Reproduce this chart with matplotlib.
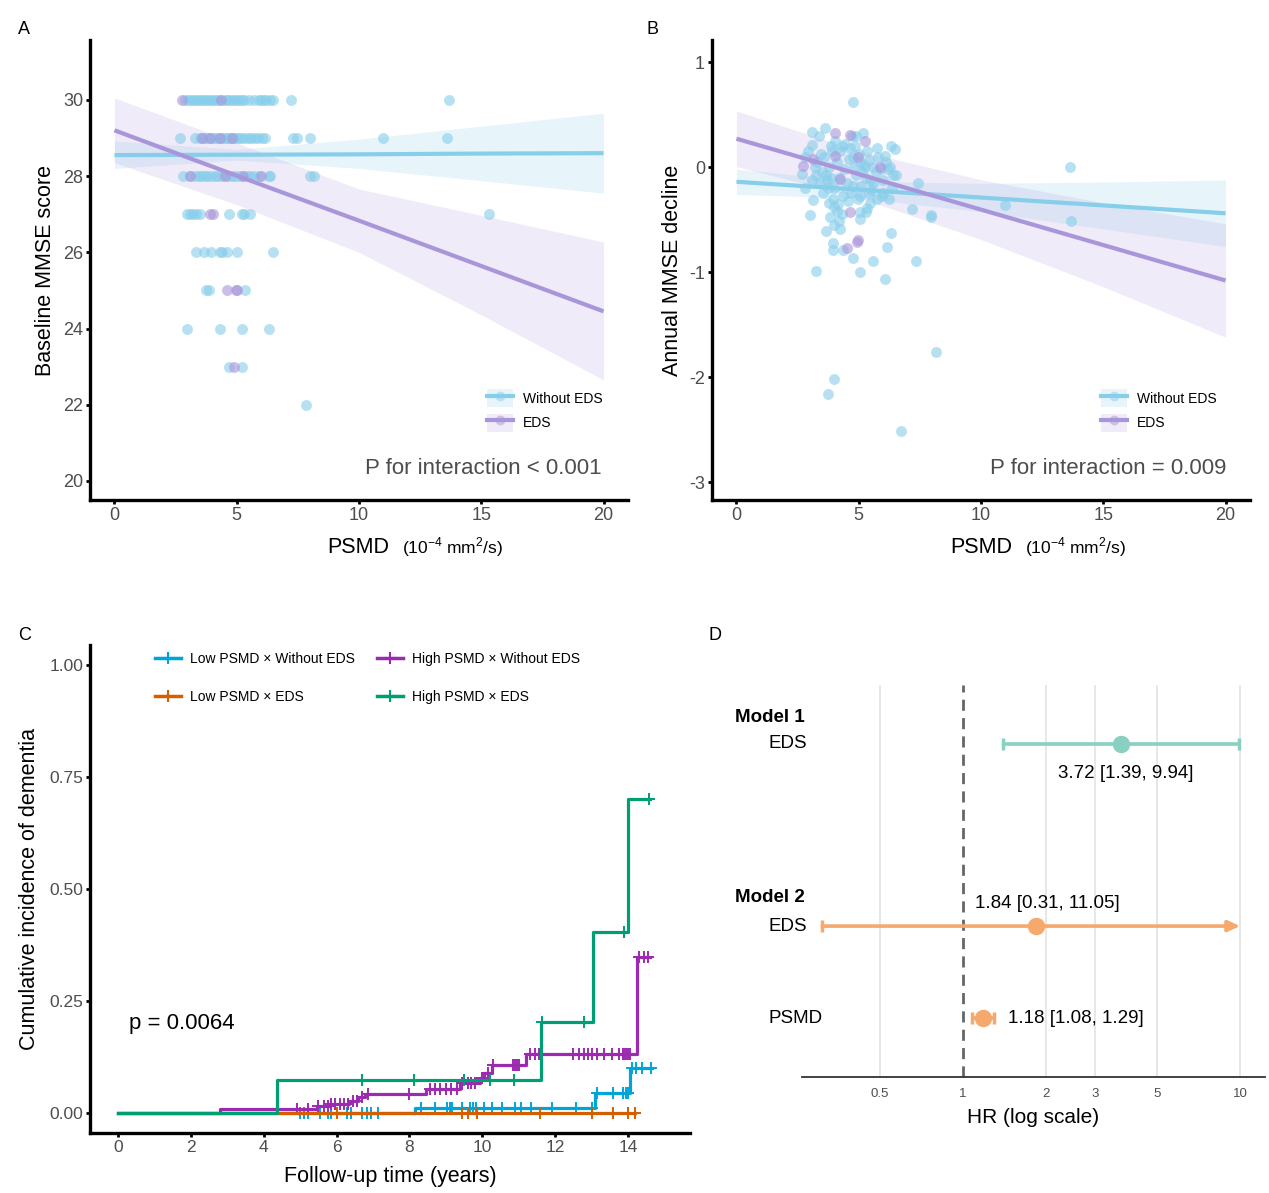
import numpy as np
import matplotlib.pyplot as plt
from matplotlib.lines import Line2D
from matplotlib.patches import Patch
from matplotlib.legend_handler import HandlerTuple
from matplotlib.ticker import NullLocator
import matplotlib.transforms as mtransforms

plt.rcParams['font.family'] = ['Liberation Sans', 'DejaVu Sans']
plt.rcParams['axes.unicode_minus'] = False

W, H = 1269, 1193

# ---------------- data ----------------
# Panel A: baseline MMSE score vs PSMD (x values per MMSE level)
a_wo = {
    30: [2.9, 3.0, 3.1, 3.2, 3.3, 3.4, 3.5, 3.6, 3.7, 3.8, 3.9, 4.0, 4.1, 4.2, 4.3, 4.5, 4.6,
         4.7, 4.8, 4.9, 5.0, 5.1, 5.2, 5.3, 5.5, 5.7, 5.9, 6.0, 6.1, 6.2, 6.35, 6.5, 7.2, 13.7],
    29: [2.7, 3.3, 3.5, 3.6, 3.7, 3.8, 3.9, 4.0, 4.1, 4.2, 4.3, 4.4, 4.5, 4.6, 4.7, 4.8, 4.9,
         5.0, 5.1, 5.2, 5.35, 5.5, 5.6, 5.75, 5.85, 6.05, 6.15, 7.3, 7.45, 8.0, 11.0, 13.6],
    28: [2.8, 3.1, 3.3, 3.45, 3.55, 3.7, 3.8, 3.95, 4.1, 4.25, 4.4, 4.6, 4.75, 4.9, 5.05,
         5.2, 5.4, 5.55, 5.7, 5.9, 6.3, 6.35, 8.0, 8.15],
    27: [2.95, 3.07, 3.2, 3.35, 3.5, 4.7, 5.2, 5.3, 5.55, 15.3],
    26: [3.35, 3.65, 3.95, 4.3, 4.4, 4.6, 5.0, 6.5],
    25: [3.75, 3.85, 5.35],
    24: [2.95, 4.3, 5.2, 6.3],
    23: [4.7, 5.2],
    22: [7.85],
}
a_eds = {
    30: [2.75, 4.35],
    29: [3.6, 3.9, 4.3, 4.8],
    28: [3.1, 4.5, 5.25, 6.0],
    27: [3.9, 4.05],
    25: [4.6, 4.95, 5.0],
    23: [4.9],
}
band_x = [0, 5, 10, 15, 20]
a_wo_fit = [28.55, 28.56, 28.57, 28.59, 28.60]
a_wo_lo = [28.20, 28.42, 28.20, 27.88, 27.55]
a_wo_hi = [28.92, 28.70, 28.97, 29.31, 29.65]
a_eds_fit = [29.20, 28.01, 26.83, 25.64, 24.45]
a_eds_lo = [28.35, 27.25, 26.00, 24.36, 22.65]
a_eds_hi = [30.05, 28.87, 27.66, 26.97, 26.27]

# Panel B: annual MMSE decline vs PSMD
b_wo_x = [4.76, 3.10, 3.64, 3.36, 5.17, 4.71, 3.10, 2.94, 2.82, 5.76, 6.32, 6.48, 6.07,
          2.66, 2.82, 2.99, 3.15, 3.66, 3.77, 3.82, 3.97, 3.94, 3.94, 4.25, 4.18, 4.35,
          4.76, 5.04, 5.04, 5.04, 5.28, 5.33, 5.48, 5.58, 5.94, 6.23, 6.30, 6.15, 6.07,
          6.53, 6.27, 7.33, 7.42, 7.17, 7.97, 7.97, 8.14, 10.99, 13.62, 13.70, 3.27, 4.00,
          3.76, 6.71, 5.04, 5.40,
          3.30, 3.50, 3.60, 3.70, 3.80, 3.90, 4.00, 4.10, 4.20, 4.30, 4.40, 4.50, 4.60,
          4.70, 4.80, 4.90, 5.00, 5.10, 5.20, 5.30, 5.40, 5.50, 5.60, 5.70, 5.80, 6.00,
          6.20, 6.40, 3.40, 3.55, 3.75, 3.95, 4.15, 4.35, 4.55, 4.75, 4.95, 5.15, 5.35,
          4.45, 4.25, 4.05, 3.85, 4.65, 4.85, 5.05, 5.25, 3.65, 3.45, 3.25, 3.10, 3.20,
          4.90, 5.60, 5.90, 6.10, 6.35, 6.00, 5.75, 4.10, 4.30, 4.00, 3.85, 4.75, 5.45]
b_wo_y = [0.62, 0.33, 0.37, 0.30, 0.32, 0.30, 0.21, 0.15, 0.10, 0.18, 0.20, 0.17, 0.11,
          -0.07, -0.20, -0.46, -0.31, -0.61, -0.34, -0.48, -0.55, -0.72, -0.79, -0.59, -0.51,
          -0.79, -0.87, -0.49, -1.00, -0.43, -0.43, -0.39, -0.34, -0.89, -0.28, -0.30, -0.63,
          -0.76, -1.07, -0.075, 0.00, -0.89, -0.15, -0.40, -0.46, -0.48, -1.76, -0.36, 0.00,
          -0.51, -0.99, -2.02, -2.16, -2.51, -0.28, -0.25,
          0.05, -0.05, 0.10, -0.12, 0.00, 0.15, -0.20, 0.05, -0.10, 0.20, -0.02, -0.15, 0.08,
          -0.25, 0.00, -0.08, 0.12, -0.18, 0.02, -0.10, 0.07, -0.22, 0.00, -0.05, 0.10, -0.12,
          -0.02, -0.08, -0.15, -0.25, -0.20, -0.30, -0.35, -0.28, -0.32, -0.18, -0.30, -0.05,
          0.15, 0.22, 0.15, 0.25, 0.20, 0.18, 0.20, 0.05, 0.00, -0.08, 0.12, -0.08, -0.12,
          0.00, 0.30, -0.15, -0.02, 0.05, -0.20, -0.25, -0.30, -0.42, -0.45, -0.38, -0.10,
          0.10, -0.12]
b_eds_x = [4.05, 4.63, 5.25, 2.71, 3.15, 4.02, 4.95, 5.89, 4.22, 4.63, 4.54, 4.95, 4.91]
b_eds_y = [0.32, 0.31, 0.25, 0.01, 0.08, 0.11, 0.10, 0.00, -0.11, -0.43, -0.77, -0.69, -0.71]
b_wo_fit = [-0.14, -0.215, -0.29, -0.365, -0.44]
b_wo_lo = [-0.26, -0.296, -0.425, -0.588, -0.757]
b_wo_hi = [-0.02, -0.134, -0.155, -0.142, -0.123]
b_eds_fit = [0.27, -0.0675, -0.405, -0.7425, -1.08]
b_eds_lo = [0.005, -0.29, -0.69, -1.14, -1.62]
b_eds_hi = [0.535, 0.155, -0.12, -0.34, -0.54]

# Panel C: cumulative incidence (step times / values, end of follow-up, censor times)
km_labels = ['Low PSMD \u00d7 Without EDS', 'High PSMD \u00d7 Without EDS',
             'Low PSMD \u00d7 EDS', 'High PSMD \u00d7 EDS']
km_colors = ['#00A5D8', '#9C2AB0', '#D55E00', '#009E73']
km_t = [
    [0, 8.15, 13.1, 14.05],
    [0, 2.79, 5.45, 5.8, 6.35, 6.6, 6.77, 8.46, 9.38, 9.94, 10.05, 10.26, 11.2, 14.25],
    [0],
    [0, 4.35, 11.6, 13.05, 14.0],
]
km_v = [
    [0, 0.011, 0.044, 0.100],
    [0, 0.008, 0.015, 0.02, 0.027, 0.035, 0.043, 0.054, 0.066, 0.077, 0.088, 0.107, 0.132, 0.347],
    [0],
    [0, 0.074, 0.204, 0.405, 0.70],
]
km_end = [14.65, 14.6, 14.2, 14.6]
km_censor = [
    [4.99, 5.1, 5.21, 5.53, 5.75, 5.85, 6.28, 6.39, 6.71, 6.82, 6.93, 7.14,
     8.32, 8.7, 9.02, 9.1, 9.18, 9.45, 9.67, 9.75, 9.83, 10.04, 10.26, 10.53, 10.9, 11.06,
     11.33, 11.92, 12.57, 13.0, 13.16, 13.59, 13.86, 13.95, 14.0, 14.12, 14.23, 14.39, 14.62],
    [4.92, 5.21, 5.5, 5.65, 5.75, 5.85, 5.95, 6.1, 6.2, 6.3, 6.45, 6.55, 6.7, 6.85, 8.0,
     8.55, 8.7, 8.85, 9.0, 9.15, 9.3, 9.45, 9.6, 9.7, 9.8, 10.0, 10.15, 10.3, 10.85, 10.9,
     10.95, 11.0, 11.3, 11.45, 11.55, 12.5, 12.65, 12.8, 12.9, 13.0, 13.15, 13.35, 13.55,
     13.75, 13.85, 13.9, 13.95, 14.0, 14.05, 14.3, 14.45, 14.55],
    [6.0, 9.45, 9.6, 9.85, 11.57, 13.0, 13.6, 14.0, 14.2],
    [6.71, 8.12, 9.49, 10.2, 10.87, 11.65, 12.8, 13.88, 14.58],
]

# Panel D: forest plot
fp_rows = ['EDS', 'EDS', 'PSMD']
fp_hr = [3.72, 1.84, 1.18]
fp_lo = [1.39, 0.31, 1.08]
fp_hi = [9.94, 11.05, 1.29]
fp_model = [1, 2, 2]

# ---------------- figure ----------------
fig = plt.figure(figsize=(W / 100, H / 100), dpi=100)


def box(l, t, r, b):
    return [l / W, 1 - b / H, (r - l) / W, (b - t) / H]


def fx(x):
    return x / W


def fy(y):
    return 1 - y / H


c_wo = '#87CEEB'
c_eds = '#A995DA'
tick_col = '#4D4D4D'


def style_classic(ax):
    for s in ['top', 'right']:
        ax.spines[s].set_visible(False)
    for s in ['left', 'bottom']:
        ax.spines[s].set_linewidth(2.4)
        ax.spines[s].set_color('black')
    ax.tick_params(direction='out', length=3, width=2, color='black',
                   labelcolor=tick_col, labelsize=13, pad=2)


def scatter_panel(ax, wo_x, wo_y, eds_x, eds_y, wo_fit, wo_lo, wo_hi, eds_fit, eds_lo, eds_hi):
    ax.fill_between(band_x, wo_lo, wo_hi, color=c_wo, alpha=0.2, lw=0, zorder=1)
    ax.fill_between(band_x, eds_lo, eds_hi, color=c_eds, alpha=0.18, lw=0, zorder=1)
    ax.scatter(wo_x, wo_y, s=62, color=c_wo, alpha=0.6, lw=0, zorder=2)
    ax.scatter(eds_x, eds_y, s=62, color=c_eds, alpha=0.6, lw=0, zorder=2)
    ax.plot(band_x, wo_fit, color=c_wo, lw=3, zorder=3, solid_capstyle='butt')
    ax.plot(band_x, eds_fit, color=c_eds, lw=3, zorder=3, solid_capstyle='butt')
    style_classic(ax)
    ax.set_xlim(-1.0, 21.0)
    ax.set_xticks([0, 5, 10, 15, 20])
    handles = [
        (Patch(facecolor=c_wo, alpha=0.2, lw=0),
         Line2D([], [], ls='none', marker='o', ms=7, mfc=c_wo, mec='none', alpha=0.5),
         Line2D([], [], color=c_wo, lw=3)),
        (Patch(facecolor=c_eds, alpha=0.18, lw=0),
         Line2D([], [], ls='none', marker='o', ms=7, mfc=c_eds, mec='none', alpha=0.5),
         Line2D([], [], color=c_eds, lw=3)),
    ]
    return handles


# Panel A
axA = fig.add_axes(box(90, 40, 628, 500))
ax_wo_x = [x for k, v in a_wo.items() for x in v]
ax_wo_y = [k for k, v in a_wo.items() for _ in v]
ax_eds_x = [x for k, v in a_eds.items() for x in v]
ax_eds_y = [k for k, v in a_eds.items() for _ in v]
hA = scatter_panel(axA, ax_wo_x, ax_wo_y, ax_eds_x, ax_eds_y,
                   a_wo_fit, a_wo_lo, a_wo_hi, a_eds_fit, a_eds_lo, a_eds_hi)
axA.set_ylim(19.5, 31.57)
axA.set_yticks([20, 22, 24, 26, 28, 30])
axA.set_ylabel('Baseline MMSE score', fontsize=15.5)
axA.yaxis.set_label_coords((56 - 90) / 538, 0.5)

# Panel B
axB = fig.add_axes(box(712, 40, 1250, 500))
hB = scatter_panel(axB, b_wo_x, b_wo_y, b_eds_x, b_eds_y,
                   b_wo_fit, b_wo_lo, b_wo_hi, b_eds_fit, b_eds_lo, b_eds_hi)
axB.set_ylim(-3.17, 1.21)
axB.set_yticks([-3, -2, -1, 0, 1])
axB.set_ylabel('Annual MMSE decline', fontsize=15.5)
axB.yaxis.set_label_coords((683 - 712) / 538, 0.5)

for ax, h, lx, ptxt, px in [(axA, hA, 487, 'P for interaction < 0.001', 602),
                            (axB, hB, 1101, 'P for interaction = 0.009', 1226)]:
    ax.legend(h, ['Without EDS', 'EDS'], handler_map={tuple: HandlerTuple(ndivide=1, pad=0)},
              loc='upper left', bbox_to_anchor=(fx(lx), fy(389)), bbox_transform=fig.transFigure,
              frameon=False, borderpad=0, borderaxespad=0, fontsize=10,
              handlelength=1.85, handleheight=1.65, handletextpad=0.75, labelspacing=0.45)
    fig.text(fx(px), fy(468), ptxt, ha='right', va='center', fontsize=16, color=tick_col)

unit = '(10$^{\\mathregular{-4}}$ mm$^{\\mathregular{2}}$/s)'
for xl, xu in [(327, 402), (950, 1025)]:
    fig.text(fx(xl), fy(553), 'PSMD', ha='left', va='baseline', fontsize=15.5)
    fig.text(fx(xu), fy(553), unit, ha='left', va='baseline', fontsize=12.5)

# Panel C
axC = fig.add_axes(box(90, 645, 690, 1133))
km_handles = []
for t, v, end, cens, col, lab in zip(km_t, km_v, km_end, km_censor, km_colors, km_labels):
    tt = np.array(t + [end])
    vv = np.array(v + [v[-1]])
    axC.step(tt, vv, where='post', color=col, lw=2.3, zorder=3)
    cens = np.array(cens)
    idx = np.searchsorted(np.array(t), cens, side='right') - 1
    axC.plot(cens, np.array(v)[idx], ls='none', marker='+', ms=8, mew=1.4, color=col, zorder=3)
    km_handles.append(Line2D([], [], color=col, lw=2.5, marker='+', ms=9, mew=1.5))
style_classic(axC)
axC.tick_params(labelsize=12.5)
axC.set_xlim(-0.77, 15.7)
axC.set_ylim(-0.045, 1.045)
axC.set_xticks(range(0, 15, 2))
axC.set_yticks([0, 0.25, 0.5, 0.75, 1.0])
axC.set_yticklabels(['0.00', '0.25', '0.50', '0.75', '1.00'])
axC.set_xlabel('Follow-up time (years)', fontsize=15.5, labelpad=8)
axC.set_ylabel('Cumulative incidence of dementia', fontsize=15.5)
axC.yaxis.set_label_coords((40 - 90) / 600, 0.5)
order = [0, 2, 1, 3]
axC.legend([km_handles[i] for i in order], [km_labels[i] for i in order], ncol=2,
           loc='upper left', bbox_to_anchor=(fx(155), fy(652)), bbox_transform=fig.transFigure,
           frameon=False, borderpad=0, borderaxespad=0, fontsize=10,
           handlelength=1.9, handletextpad=0.6, columnspacing=1.6, labelspacing=1.75)
fig.text(fx(129), fy(1024), 'p = 0.0064', ha='left', va='center', fontsize=16)

# Panel D
axD = fig.add_axes(box(802, 685, 1265, 1077))
axD.set_xscale('log')
axD.set_xlim(0.262, 12.3)
axD.set_ylim(10, 0)
row_y = [1.5, 6.15, 8.5]
model_y = {1: 0.82, 2: 5.41}
model_col = {1: '#88D1C0', 2: '#F6A96C'}
for s in ['top', 'right', 'left']:
    axD.spines[s].set_visible(False)
axD.spines['bottom'].set_color('#333333')
axD.spines['bottom'].set_linewidth(1.3)
axD.set_xticks([0.5, 1, 2, 3, 5, 10])
axD.set_xticklabels(['0.5', '1', '2', '3', '5', '10'])
axD.xaxis.set_minor_locator(NullLocator())
axD.set_yticks([])
axD.tick_params(axis='x', length=0, pad=8, labelsize=9.5, labelcolor=tick_col)
for g in [0.5, 2, 3, 5, 10]:
    axD.axvline(g, color='#E3E3E3', lw=1.2, zorder=0)
axD.axvline(1, color='#666666', lw=2, ls=(0, (4, 2.6)), zorder=1)
axD.set_xlabel('HR (log scale)', fontsize=15, labelpad=6)

lab_tr = mtransforms.blended_transform_factory(fig.transFigure, axD.transData)
label_off = [(5, -30, 'center'), (-61, 23, 'left'), (25, 0, 'left')]
for name, hr, lo, hi, m, y, off in zip(fp_rows, fp_hr, fp_lo, fp_hi, fp_model, row_y, label_off):
    col = model_col[m]
    axD.plot([lo], [y], marker='|', ms=8, mew=2.5, color=col, zorder=3)
    if hi > 10:
        # interval runs past the axis: draw it to 10 with an arrow head
        axD.annotate('', xy=(10, y), xytext=(lo, y), zorder=3,
                     arrowprops=dict(arrowstyle='-|>,head_length=0.7,head_width=0.32',
                                     color=col, lw=2.6, shrinkA=0, shrinkB=0))
    else:
        axD.plot([lo, hi], [y, y], color=col, lw=2.6, zorder=3, solid_capstyle='butt')
        axD.plot([hi], [y], marker='|', ms=8, mew=2.5, color=col, zorder=3)
    axD.plot([hr], [y], marker='o', ms=11.5, color=col, mec=col, zorder=4)
    axD.annotate(f'{hr:.2f} [{lo:.2f}, {hi:.2f}]', xy=(hr, y), xytext=off[:2],
                 textcoords='offset pixels', ha=off[2], va='center', fontsize=13.5)
    axD.text(fx(768), y, name, transform=lab_tr, ha='left', va='center', fontsize=13.5)
for m, y in model_y.items():
    axD.text(fx(735), y, f'Model {m}', transform=lab_tr, ha='left', va='center',
             fontsize=13.5, fontweight='bold')

for txt, x, y in [('A', 18, 30), ('B', 646, 30), ('C', 18, 636), ('D', 708, 636)]:
    fig.text(fx(x), fy(y), txt, ha='left', va='center', fontsize=13)

fig.savefig('out.png', dpi=100)
